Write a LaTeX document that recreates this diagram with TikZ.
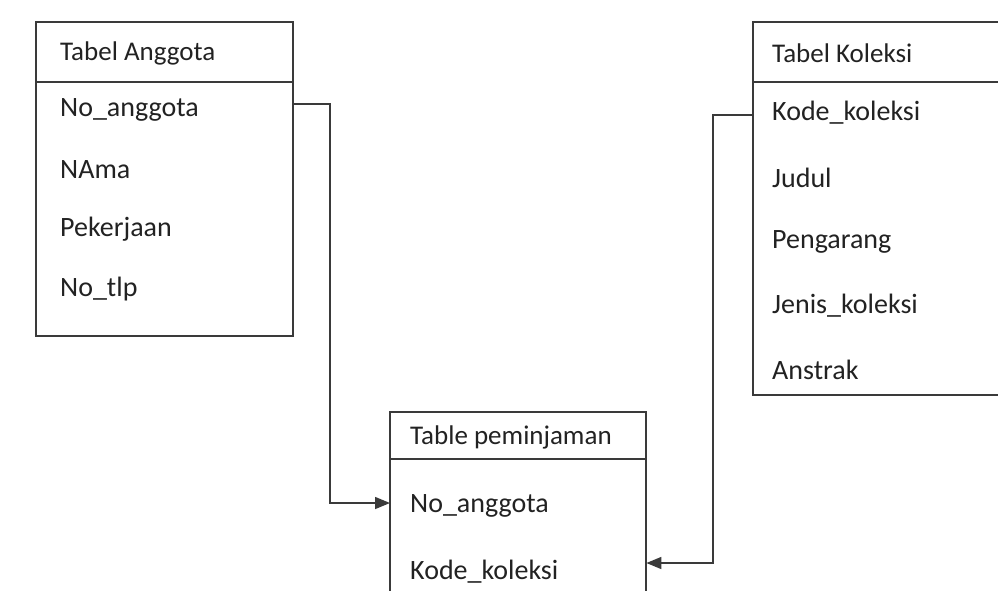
\documentclass[tikz,border=0pt]{standalone}
\usepackage{fontspec}
\setmainfont{Carlito}
\usetikzlibrary{arrows.meta,calc}
\definecolor{ink}{HTML}{222222}
\definecolor{edge}{HTML}{3A3A3A}
\begin{document}
\begin{tikzpicture}[x=1pt,y=-1pt,
  tbox/.style={draw=edge,line width=1.5pt,fill=none,inner sep=0pt,outer sep=0pt},
  ttl/.style={anchor=west,inner sep=0pt,text=ink,font=\fontsize{27}{32}\selectfont},
  fld/.style={anchor=west,inner sep=0pt,text=ink,font=\fontsize{28}{32}\selectfont},
  conn/.style={draw=edge,line width=1.5pt},
  tip/.style={-{Triangle[length=15pt,width=12pt]}}]
\clip (0,0) rectangle (998,590);
\fill[white] (0,0) rectangle (998,590);
% Tabel Anggota
\path[tbox] (36,22) rectangle (293,336);
\node[tbox,minimum width=257pt,minimum height=60pt,anchor=north west] (hA) at (36,22) {};
\node[anchor=north west,inner sep=0pt,minimum width=257pt,minimum height=314pt] (boxA) at (36,22) {};
\node[ttl] (tA) at (60,53) {Tabel Anggota};
\node[fld] (a1) at (60,110) {No\_anggota};
\node[fld] (a2) at (60,170) {NAma};
\node[fld] (a3) at (60,229) {Pekerjaan};
\node[fld] (a4) at (60,289) {No\_tlp};
% Tabel Koleksi
\path[tbox] (753,22) rectangle (1010,395);
\node[tbox,minimum width=257pt,minimum height=60pt,anchor=north west] (hK) at (753,22) {};
\node[anchor=north west,inner sep=0pt,minimum width=257pt,minimum height=373pt] (boxK) at (753,22) {};
\node[ttl] (tK) at (772,53) {Tabel Koleksi};
\node[fld] (k1) at (772,113) {Kode\_koleksi};
\node[fld] (k2) at (772,178) {Judul};
\node[fld] (k3) at (772,242) {Pengarang};
\node[fld] (k4) at (772,306) {Jenis\_koleksi};
\node[fld] (k5) at (772,370) {Anstrak};
% Table peminjaman
\path[tbox] (390,412) rectangle (646,610);
\node[tbox,minimum width=256pt,minimum height=47pt,anchor=north west] (hP) at (390,412) {};
\node[anchor=north west,inner sep=0pt,minimum width=256pt,minimum height=198pt] (boxP) at (390,412) {};
\node[ttl] (tP) at (410,437) {Table peminjaman};
\node[fld] (p1) at (410,506) {No\_anggota};
\node[fld] (p2) at (410,572) {Kode\_koleksi};
% connectors
\coordinate (cA) at ($(boxA.east |- a1.center)+(0,-6)$);
\coordinate (eA) at ($(boxP.west |- p1.center)+(0,-3)$);
\draw[conn,tip] (cA) -- (cA -| 330,0) -- (eA -| 330,0) -- (eA);
\coordinate (cK) at ($(boxK.west |- k1.center)+(0,2)$);
\coordinate (eK) at ($(boxP.east |- p2.center)+(0,-9)$);
\draw[conn,tip] (cK) -- (cK -| 713,0) -- (eK -| 713,0) -- (eK);
\end{tikzpicture}
\end{document}
